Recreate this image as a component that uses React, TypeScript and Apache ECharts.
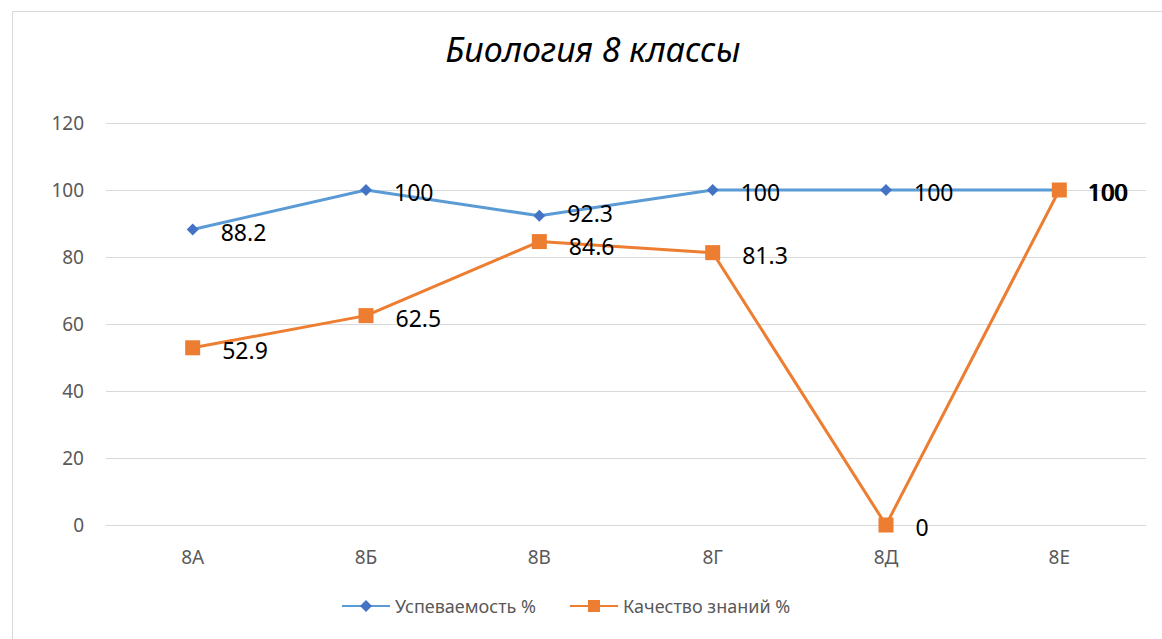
import React, { useEffect, useRef } from "react";
import * as echarts from "echarts";

const categories = ["8А", "8Б", "8В", "8Г", "8Д", "8Е"];
const uspevaemost = [88.2, 100, 92.3, 100, 100, 100];
const kachestvo = [52.9, 62.5, 84.6, 81.3, 0, 100];
const seriesNames = ["Успеваемость %", "Качество знаний %"];
const titleText = "Биология 8 классы";

// small vertical nudges of the data labels (pixels) to keep close labels apart
const labelNudgeA = [2, 2, -3, 2, 2, 2];
const labelNudgeB = [2, 2, 4, 2, 2, 2];

export default function App() {
  const ref = useRef<HTMLDivElement>(null);
  useEffect(() => {
    if (!ref.current) return;
    const chart = echarts.init(ref.current, null, { renderer: "svg" });
    const font = "'Noto Sans', sans-serif";
    const labelStyle = {
      show: true,
      position: "right" as const,
      distance: 22,
      color: "#000",
      fontSize: 23,
      lineHeight: 24,
      fontFamily: font,
    };
    const withNudge = (vals: number[], nudges: number[]) =>
      vals.map((v, i) => ({ value: v, label: { offset: [0, nudges[i]] } }));
    chart.setOption({
      animation: false,
      backgroundColor: "#fff",
      title: {
        text: titleText,
        left: 588,
        textAlign: "center",
        top: 27,
        textStyle: {
          fontStyle: "italic",
          fontWeight: "normal",
          fontSize: 34,
          color: "#000",
          fontFamily: font,
        },
      },
      graphic: [
        {
          type: "rect",
          shape: { x: 12.5, y: 11.5, width: 1160, height: 640 },
          style: { fill: "none", stroke: "#d9d9d9", lineWidth: 1 },
          silent: true,
        },
      ],
      legend: {
        bottom: 19,
        left: 336,
        itemWidth: 48,
        itemHeight: 15,
        itemGap: 33,
        textStyle: { fontSize: 18, color: "#595959", fontFamily: font },
        data: seriesNames,
      },
      grid: { left: 106, right: 16, top: 123, bottom: 114 },
      xAxis: {
        type: "category",
        data: categories,
        axisLine: { show: true, lineStyle: { color: "#d9d9d9", width: 1 } },
        axisTick: { show: false },
        axisLabel: { color: "#595959", fontSize: 19, margin: 22, fontFamily: font },
      },
      yAxis: {
        type: "value",
        min: 0,
        max: 120,
        interval: 20,
        axisLine: { show: false },
        axisTick: { show: false },
        splitLine: { lineStyle: { color: "#d9d9d9", width: 1 } },
        axisLabel: { color: "#595959", fontSize: 19, margin: 22, fontFamily: font },
      },
      series: [
        {
          name: seriesNames[0],
          type: "line",
          data: withNudge(uspevaemost, labelNudgeA),
          symbol: "diamond",
          symbolSize: 12,
          itemStyle: { color: "#4472c4" },
          lineStyle: { color: "#5b9bd5", width: 3 },
          label: labelStyle,
        },
        {
          name: seriesNames[1],
          type: "line",
          data: withNudge(kachestvo, labelNudgeB),
          symbol: "rect",
          symbolSize: 15,
          itemStyle: { color: "#ed7d31" },
          lineStyle: { color: "#ed7d31", width: 3 },
          label: labelStyle,
        },
      ],
    });
    return () => chart.dispose();
  }, []);
  return (
    <div
      ref={ref}
      style={{ position: "fixed", left: 0, top: 0, width: 1162, height: 639 }}
    />
  );
}
